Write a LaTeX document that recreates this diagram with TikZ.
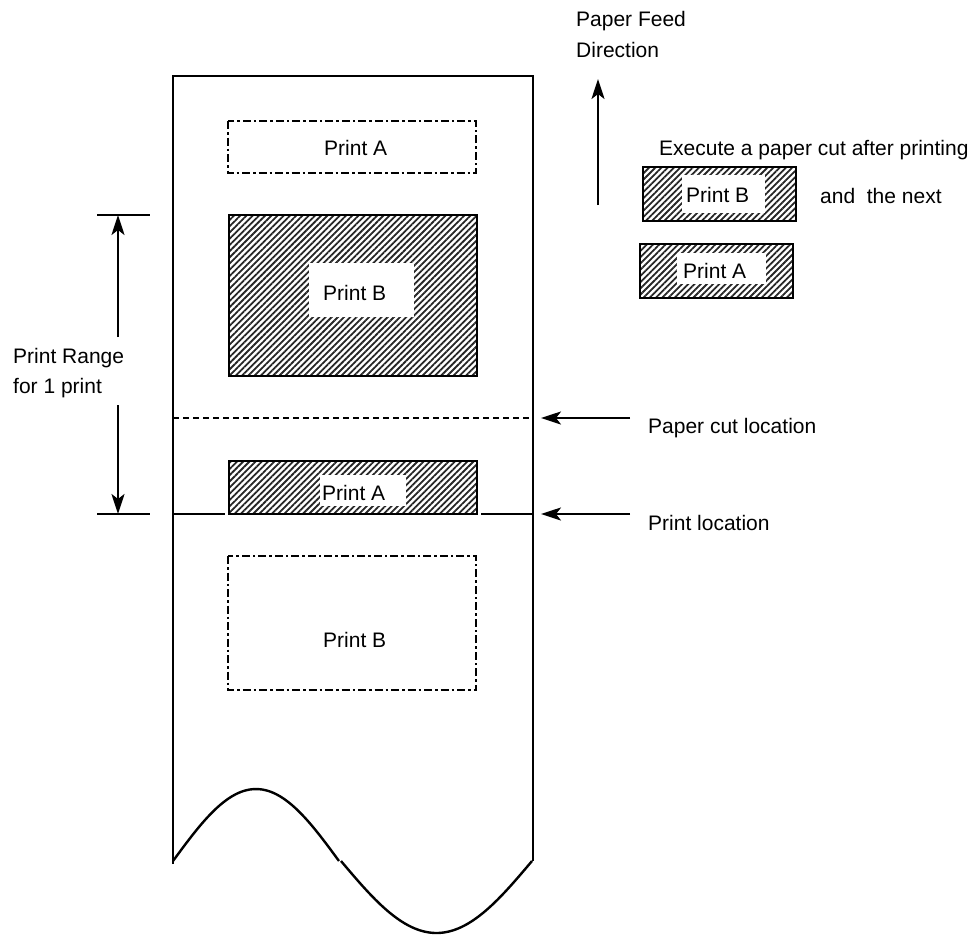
\documentclass[tikz,border=0pt]{standalone}
\usepackage{fontspec}
\setmainfont{Liberation Sans}
\usetikzlibrary{arrows.meta,patterns.meta}
\tikzset{>={Stealth[length=20pt,width=13pt,inset=5pt]}}
\tikzset{
  hatchbox/.style={draw, line width=2.6pt, pattern={Lines[angle=45,distance=4.4pt,line width=1.8pt]}, pattern color=black!85},
  chainbox/.style={draw, line width=2.6pt, dash pattern=on 8pt off 3pt on 2.5pt off 3pt},
  lbl/.style={anchor=base west, inner sep=0pt, font=\fontsize{21}{25}\selectfont}
}

\begin{document}
\begin{tikzpicture}[x=1pt, y=-1pt, line width=2.4pt]
    \useasboundingbox (0,0) rectangle (978,935);
    % paper
    \coordinate (PL) at (173,76);
    \coordinate (PR) at (533,76);
    \draw (173,864) -- (PL) -- (PR) -- (533,861);
    \draw plot[domain=0:180, samples=40, smooth, variable=\t] ({173+\t*0.9222}, {861-72*sin(\t)});
    \draw plot[domain=0:180, samples=40, smooth, variable=\t] ({341+\t*1.0611}, {861+72*sin(\t)});
    % boxes on the paper
    \draw [chainbox] (228,121) rectangle (476,173);
    \draw [hatchbox] (229,215) rectangle (477,376);
    \fill [white] (309,263) rectangle (414,317);
    \draw [hatchbox] (229,461) rectangle (477,514);
    \fill [white] (320,475) rectangle (406,506);
    \draw [chainbox] (228,556) rectangle (476,690);
    \node (pa1) [lbl] at (323,155) {Print A};
    \node (pb1) [lbl] at (322,300) {Print B};
    \node (pa2) [lbl] at (321,500) {Print A};
    \node (pb2) [lbl] at (322,647) {Print B};
    % cut and print lines
    \coordinate (cutL) at (173,418);
    \coordinate (cutR) at (533,418);
    \draw [dashed, dash pattern=on 6pt off 4pt] (cutL) -- (cutR);
    \coordinate (prtL) at (173,514);
    \coordinate (prtR) at (533,514);
    \draw (prtL) -- (225,514);
    \draw (481,514) -- (prtR);
    % print range
    \coordinate (topT) at (118,215);
    \coordinate (botT) at (118,514);
    \draw (97,215) -- (150,215);
    \draw (97,514) -- (150,514);
    \draw [->] (118,337) -- (topT);
    \draw [->] (118,405) -- (botT);
    \node (range) [lbl] at (12,363) {Print Range};
    \node (range2) [lbl] at (12,393) {for 1 print};
    % pointers
    \node (cutlbl) [lbl] at (647,433) {Paper cut location};
    \node (prtlbl) [lbl] at (647,530) {Print location};
    \coordinate (cutA) at (630,418);
    \coordinate (prtA) at (630,514);
    \draw [->] (cutA) -- (541,418);
    \draw [->] (prtA) -- (541,514);
    % feed direction
    \node (feed) [lbl] at (575,26) {Paper Feed};
    \node (feed2) [lbl] at (575,57) {Direction};
    \coordinate (feedA) at (598,205);
    \draw [->] (feedA) -- (598,79);
    % example of cut
    \node (exec) [lbl] at (658,155) {Execute a paper cut after printing};
    \draw [hatchbox] (643,167) rectangle (796,221);
    \fill [white] (682,175) rectangle (765,213);
    \node (pb3) [lbl] at (685,202) {Print B};
    \node (next) [lbl] at (819,203) {and\ \ the next};
    \draw [hatchbox] (640,244) rectangle (793,298);
    \fill [white] (677,253) rectangle (766,284);
    \node (pa3) [lbl] at (682,278) {Print A};
\end{tikzpicture}
\end{document}
